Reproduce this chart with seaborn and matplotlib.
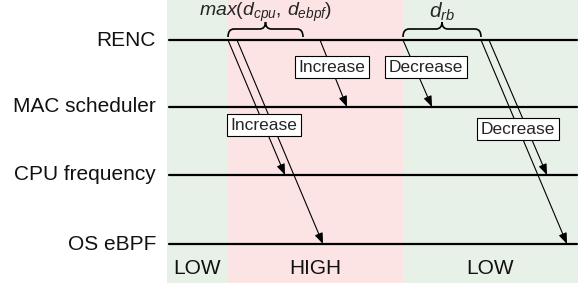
import numpy as np
import pandas as pd
import matplotlib
matplotlib.use('Agg')
import matplotlib.pyplot as plt
from matplotlib.patches import FancyArrowPatch, Rectangle, PathPatch
from matplotlib.path import Path
import seaborn as sns

# ── Diagram data (x = time axis, y = lane position) ──────────────────────────
lanes  = ['RENC', 'MAC scheduler', 'CPU frequency', 'OS eBPF']
lane_y = [40, 107, 175, 244]
lane_x = [169, 577]

phase_names  = ['LOW', 'HIGH', 'LOW']
phase_edges  = [167, 228, 403, 578]
phase_colors = ['#e8f1e8', '#fce4e4', '#e8f1e8']

# signals sent from RENC: start x on RENC, end x on target lane
sig_x0 = [228, 237, 320, 403, 481, 489]
sig_x1 = [285, 323, 347, 432, 567, 547]
sig_to = ['CPU frequency', 'OS eBPF', 'MAC scheduler', 'MAC scheduler',
          'OS eBPF', 'CPU frequency']

box_text = ['Increase', 'Decrease', 'Increase', 'Decrease']
box_x    = [332, 426, 264, 518]
box_y    = [67, 67, 125, 129]

brace_x0   = [228, 403]
brace_x1   = [303, 481]
brace_text = [r'$\mathit{max(d_{cpu},\,d_{ebpf})}$', r'$\mathit{d_{rb}}$']
brace_size = [14, 15]

# ── Style ────────────────────────────────────────────────────────────────────
sns.set_theme(style='white')
plt.rcParams['font.family'] = ['Liberation Sans', 'DejaVu Sans']
plt.rcParams['mathtext.fontset'] = 'custom'
plt.rcParams['mathtext.rm'] = 'Liberation Sans'
plt.rcParams['mathtext.it'] = 'Liberation Sans:italic'

fig = plt.figure(figsize=(5.8, 2.86), dpi=100)
ax = fig.add_axes([0, 0, 1, 1])

# ── Phase backgrounds ────────────────────────────────────────────────────────
for i, name in enumerate(phase_names):
    x0, x1 = phase_edges[i], phase_edges[i + 1]
    ax.add_patch(Rectangle((x0, 0), x1 - x0, 283, color=phase_colors[i],
                           lw=0, zorder=0))
    ax.text((x0 + x1) / 2, 269, name, ha='center', va='center',
            fontsize=15, color='#111111')

# ── Lanes ────────────────────────────────────────────────────────────────────
lane_df = pd.DataFrame({
    'lane': np.repeat(lanes, 2),
    'x': lane_x * len(lanes),
    'y': np.repeat(lane_y, 2),
})
sns.lineplot(data=lane_df, x='x', y='y', units='lane', estimator=None,
             color='black', lw=1.6, ax=ax, zorder=2)
ax.set_xlim(0, 580)
ax.set_ylim(286, 0)
ax.axis('off')
for name, y in zip(lanes, lane_y):
    ax.text(156, y, name, ha='right', va='center', fontsize=15,
            color='#111111')

# ── Signals ──────────────────────────────────────────────────────────────────
y_of = dict(zip(lanes, lane_y))
for x0, x1, to in zip(sig_x0, sig_x1, sig_to):
    ax.add_patch(FancyArrowPatch((x0, y_of['RENC']), (x1, y_of[to]),
                                 arrowstyle='-|>,head_length=6.5,head_width=2.5',
                                 mutation_scale=1, lw=0.8, color='black',
                                 shrinkA=0, shrinkB=0, zorder=3))

for t, x, y in zip(box_text, box_x, box_y):
    ax.text(x, y, t, ha='center', va='center', fontsize=12.5, zorder=5,
            bbox=dict(boxstyle='square,pad=0.22', fc='white', ec='black',
                      lw=0.8))

# ── Braces ───────────────────────────────────────────────────────────────────
for x0, x1, t, fs in zip(brace_x0, brace_x1, brace_text, brace_size):
    xm, r = (x0 + x1) / 2, 6
    y_end, y_bar, y_tip = 37, 29, 22
    verts = [(x0, y_end), (x0, y_bar), (x0 + r, y_bar),
             (xm - r, y_bar), (xm, y_bar), (xm, y_tip),
             (xm, y_bar), (xm + r, y_bar),
             (x1 - r, y_bar), (x1, y_bar), (x1, y_end)]
    codes = [Path.MOVETO, Path.CURVE3, Path.CURVE3,
             Path.LINETO, Path.CURVE3, Path.CURVE3,
             Path.CURVE3, Path.CURVE3,
             Path.LINETO, Path.CURVE3, Path.CURVE3]
    ax.add_patch(PathPatch(Path(verts, codes), fc='none', ec='black',
                           lw=1.2, zorder=4))
    ax.text(xm, 12, t, ha='center', va='center', fontsize=fs)

fig.savefig('out.png', dpi=100)
